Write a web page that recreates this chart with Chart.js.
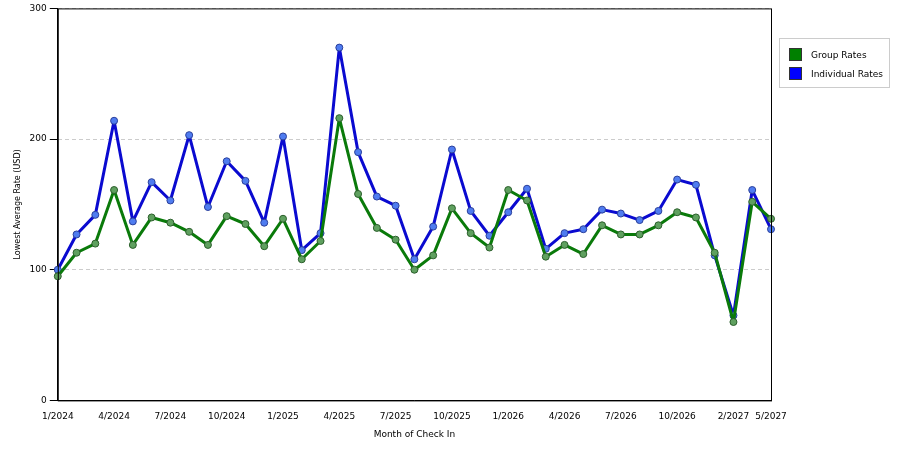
<!DOCTYPE html>
<html>
<head>
<meta charset="utf-8">
<script src="https://cdn.jsdelivr.net/npm/chart.js@4/dist/chart.umd.min.js"></script>
<style>
  body { margin: 0; background: #fff; font-family: "DejaVu Sans", sans-serif; }
  #wrap { position: relative; width: 900px; height: 450px; }
  #legend { position: absolute; left: 779px; top: 38px; width: 109px; height: 48px; border: 1px solid #ccc; font-size: 9px; }
  .item { position: absolute; left: 9px; display: flex; align-items: center; white-space: nowrap; }
  .sw { width: 11px; height: 11px; margin-right: 9px; border: 1px solid #333; }
</style>
</head>
<body>
<div id="wrap">
  <canvas id="chart" width="900" height="450"></canvas>
  <div id="legend">
    <div class="item" style="top:9px"><span class="sw" style="background:#008000"></span>Group Rates</div>
    <div class="item" style="top:28px"><span class="sw" style="background:#0000ff"></span>Individual Rates</div>
  </div>
</div>
<script>
// months shown on the axis (data has some gaps near the end)
const months = [
  "1/2024","2/2024","3/2024","4/2024","5/2024","6/2024","7/2024","8/2024","9/2024","10/2024","11/2024","12/2024",
  "1/2025","2/2025","3/2025","4/2025","5/2025","6/2025","7/2025","8/2025","9/2025","10/2025","11/2025","12/2025",
  "1/2026","2/2026","3/2026","4/2026","5/2026","6/2026","7/2026","8/2026","9/2026","10/2026","11/2026","12/2026",
  "2/2027","3/2027","5/2027"
];
const tickMonths = ["1/2024","4/2024","7/2024","10/2024","1/2025","4/2025","7/2025","10/2025","1/2026","4/2026","7/2026","10/2026","2/2027","5/2027"];

const groupRates = [95,113,120,161,119,140,136,129,119,141,135,118,139,108,122,216,158,132,123,100,111,147,128,117,161,153,110,119,112,134,127,127,134,144,140,113,60,152,139];
const individualRates = [100,127,142,214,137,167,153,203,148,183,168,136,202,115,128,270,190,156,149,108,133,192,145,126,144,162,116,128,131,146,143,138,145,169,165,111,65,161,131];

const frame = {
  id: "frame",
  afterDraw(chart) {
    const { ctx, chartArea: a } = chart;
    ctx.save();
    ctx.strokeStyle = "#000";
    ctx.lineWidth = 1;
    ctx.strokeRect(a.left + 0.5, a.top + 0.5, a.right - a.left, a.bottom - a.top);
    ctx.restore();
  }
};

new Chart(document.getElementById("chart"), {
  type: "line",
  data: {
    labels: months,
    datasets: [
      {
        label: "Group Rates",
        data: groupRates,
        borderColor: "#0a7a0a",
        backgroundColor: "#5fa05f",
        pointBorderColor: "#2b5e2b",
        borderWidth: 3,
        borderJoinStyle: "round",
        pointRadius: 3.5,
        pointBorderWidth: 1,
        tension: 0
      },
      {
        label: "Individual Rates",
        data: individualRates,
        borderColor: "#0a0ad0",
        backgroundColor: "#4f7cf0",
        pointBorderColor: "#2a3f9a",
        borderWidth: 3,
        borderJoinStyle: "round",
        pointRadius: 3.5,
        pointBorderWidth: 1,
        tension: 0
      }
    ]
  },
  options: {
    responsive: false,
    animation: false,
    layout: { padding: { left: 9, right: 129, top: 2, bottom: 6 } },
    plugins: { legend: { display: false }, tooltip: { enabled: false } },
    scales: {
      x: {
        offset: false,
        grid: { display: false },
        border: { color: "#000" },
        ticks: {
          autoSkip: false,
          maxRotation: 0,
          color: "#000",
          font: { size: 9, family: "DejaVu Sans" },
          callback: function (v) {
            const l = this.getLabelForValue(v);
            return tickMonths.includes(l) ? l : "";
          }
        },
        title: { display: true, text: "Month of Check In", color: "#000", font: { size: 9, family: "DejaVu Sans" } }
      },
      y: {
        min: 0,
        max: 300,
        ticks: { stepSize: 100, color: "#000", font: { size: 9, family: "DejaVu Sans" } },
        grid: { color: "#ccc", drawTicks: true, tickColor: "#000" },
        border: { color: "#000", dash: [4, 3] },
        title: { display: true, text: "Lowest Average Rate (USD)", color: "#000", font: { size: 8, family: "DejaVu Sans" } }
      }
    }
  },
  plugins: [frame]
});
</script>
</body>
</html>
